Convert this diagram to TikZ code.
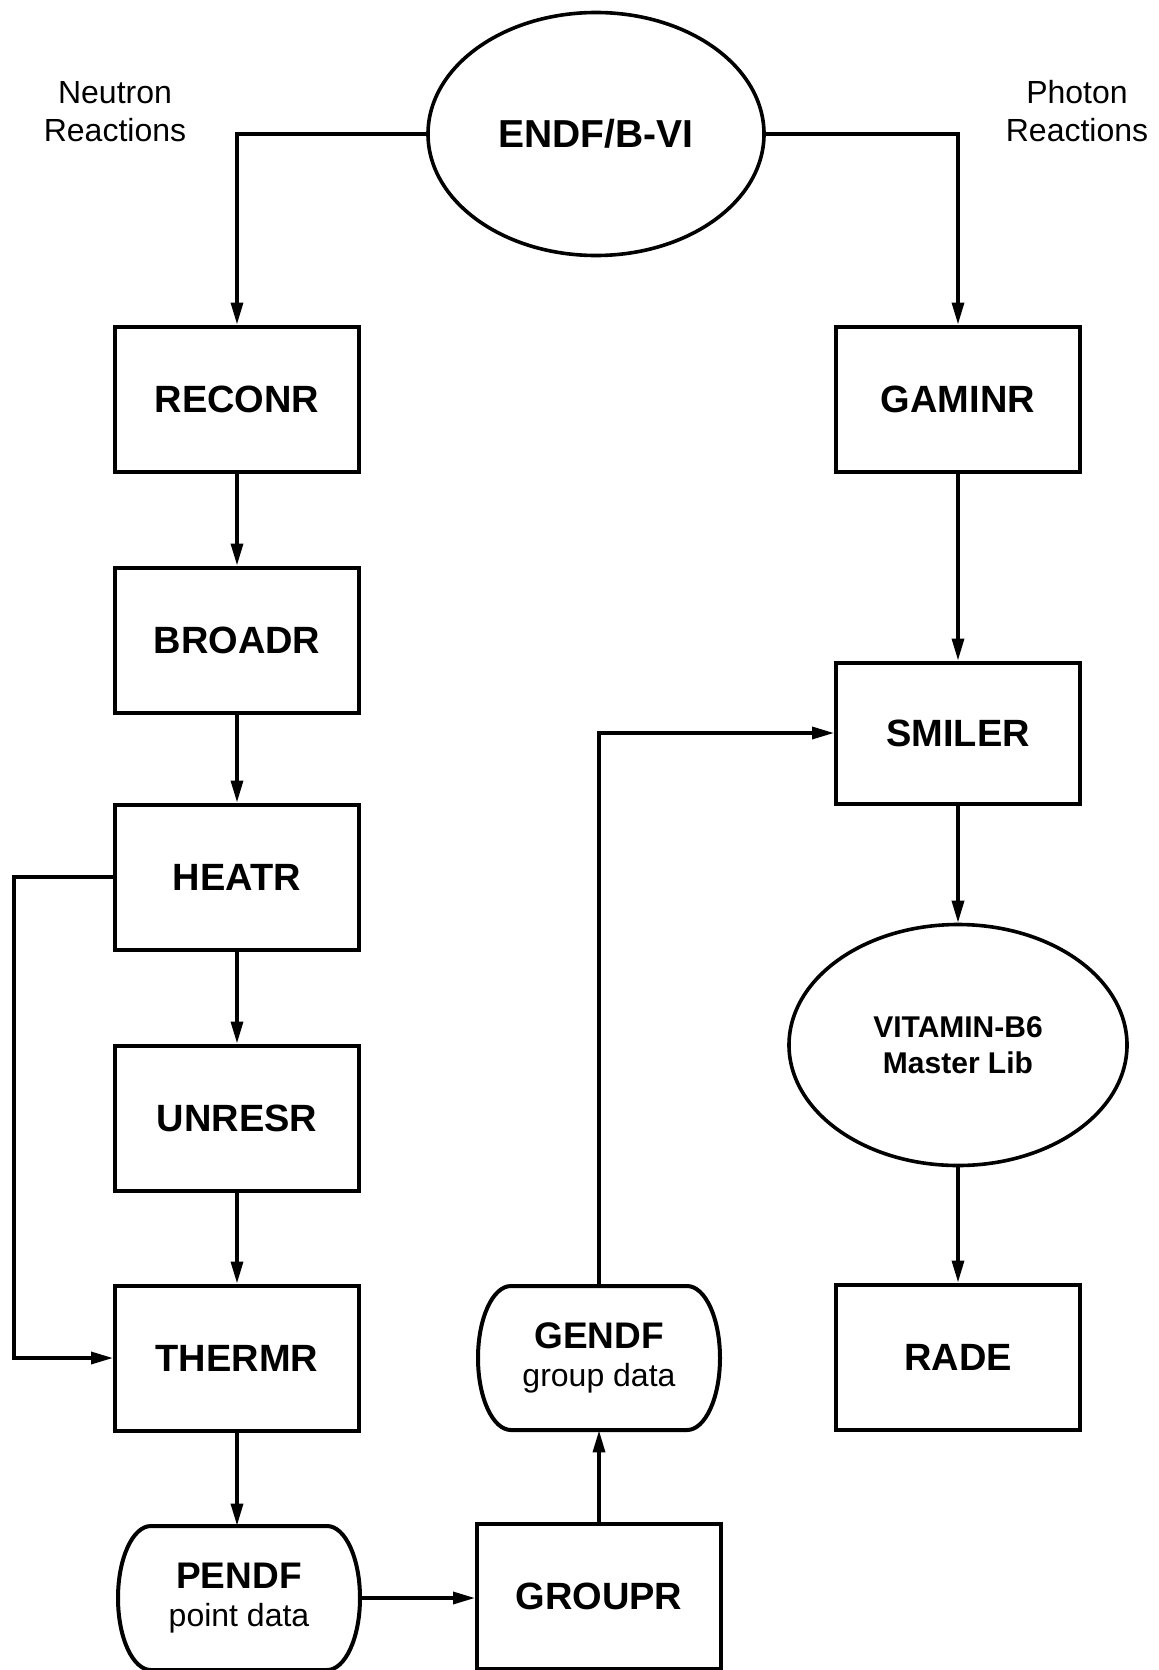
\documentclass[tikz,border=0pt]{standalone}
\usepackage{fontspec}
\setmainfont{Liberation Sans}
\usetikzlibrary{arrows.meta,shapes.geometric}
\tikzset{
  boxnode/.style={draw,line width=2pt,minimum width=122pt,minimum height=72.5pt,inner sep=0pt,font=\fontsize{19}{22}\selectfont\bfseries},
  ovalnode/.style={draw,ellipse,line width=1.8pt,inner sep=0pt,align=center},
  datanode/.style={minimum width=121pt,minimum height=72pt,inner sep=0pt,align=center,font=\fontsize{16}{19}\selectfont},
  dataline/.style={line width=2pt},
  plain/.style={align=center,font=\fontsize{16}{19}\selectfont},
  arr/.style={line width=1.7pt,-{Triangle[length=11pt,width=6pt]}}
}
\begin{document}
\begin{tikzpicture}[x=0.5pt,y=-0.5pt]
\useasboundingbox (0,0) rectangle (1158,1670);
% ellipses
\node[ovalnode,minimum width=168pt,minimum height=121.5pt,font=\fontsize{19.5}{22}\selectfont\bfseries] (endf) at (596,134) {ENDF/B-VI};
\node[ovalnode,minimum width=169pt,minimum height=120.5pt,font=\fontsize{15}{18}\selectfont\bfseries] (vit) at (958,1045) {VITAMIN-B6\\Master Lib};
% labels
\node[plain] (neut) at (115,112) {Neutron\\Reactions};
\node[plain] (phot) at (1077,111) {Photon\\Reactions};
% left column
\node[boxnode] (reconr) at (237,399) {RECONR};
\node[boxnode] (broadr) at (237,640) {BROADR};
\node[boxnode] (heatr) at (237,877) {HEATR};
\node[boxnode] (unresr) at (237,1118) {UNRESR};
\node[boxnode] (thermr) at (237,1358) {THERMR};
\node[datanode] (pendf) at (239,1598) {{\fontsize{18.5}{19}\selectfont\bfseries PENDF}\\point data};
% middle column
\node[boxnode] (groupr) at (599,1596) {GROUPR};
\node[datanode] (gendf) at (599,1358) {{\fontsize{18.5}{19}\selectfont\bfseries GENDF}\\group data};
% right column
\node[boxnode] (gaminr) at (958,399) {GAMINR};
\node[boxnode,minimum height=70.5pt] (smiler) at (958,733) {SMILER};
\node[boxnode] (rade) at (958,1357) {RADE};
% outlines of the data nodes
\draw[dataline] (pendf.center) ++(-88,-72) -- ++(176,0) arc[start angle=-90,end angle=90,x radius=33,y radius=72] -- ++(-176,0) arc[start angle=90,end angle=270,x radius=33,y radius=72] -- cycle;
\draw[dataline] (gendf.center) ++(-88,-72) -- ++(176,0) arc[start angle=-90,end angle=90,x radius=33,y radius=72] -- ++(-176,0) arc[start angle=90,end angle=270,x radius=33,y radius=72] -- cycle;
\coordinate (fb) at (14,877);
% connectors
\draw[arr] (endf.west) -| (reconr.north);
\draw[arr] (endf.east) -| (gaminr.north);
\draw[arr] (reconr) -- (broadr);
\draw[arr] (broadr) -- (heatr);
\draw[arr] (heatr) -- (unresr);
\draw[arr] (unresr) -- (thermr);
\draw[arr] (thermr.south) -- (thermr.south |- pendf.north);
\draw[arr] (heatr.west) -- (fb) |- (thermr.west);
\draw[arr] (pendf.east) -- (pendf.east -| groupr.west);
\draw[arr] (groupr) -- (gendf);
\draw[arr] (gendf.north) |- (smiler.west);
\draw[arr] (gaminr) -- (smiler);
\draw[arr] (smiler) -- (vit);
\draw[arr] (vit) -- (rade);
\end{tikzpicture}
\end{document}
